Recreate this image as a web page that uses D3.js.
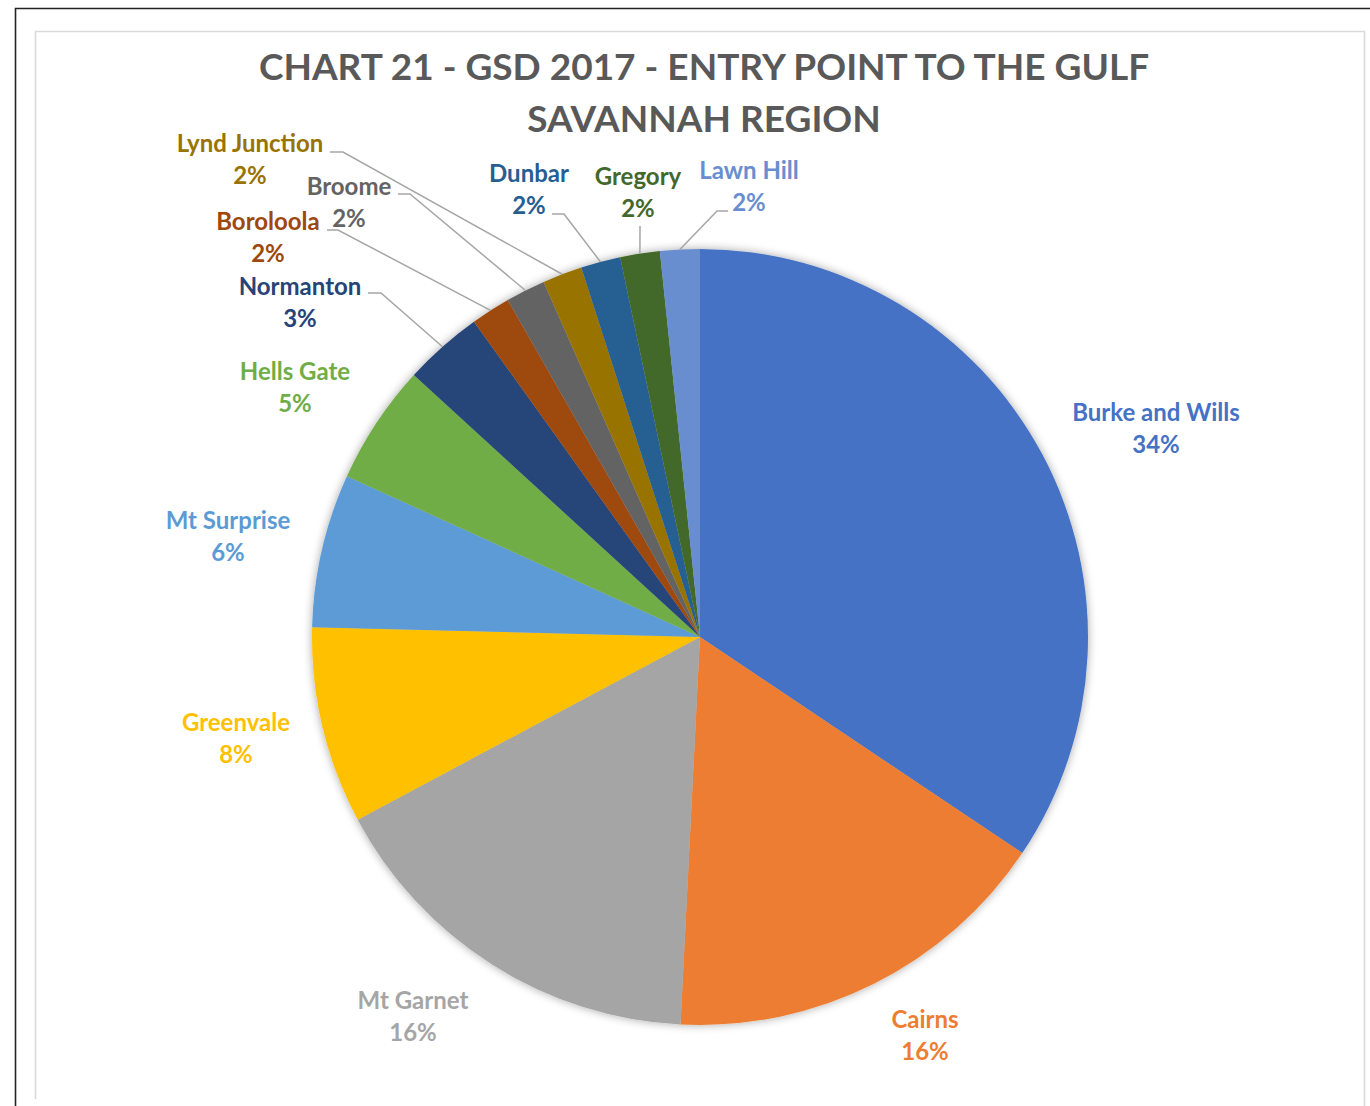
<!DOCTYPE html>
<html>
<head>
<meta charset="utf-8">
<script src="https://cdn.jsdelivr.net/npm/d3@7"></script>
<style>
  html, body { margin: 0; padding: 0; background: #ffffff; }
  svg { display: block; }
  text { font-family: Lato, "Open Sans", "DejaVu Sans", sans-serif; font-weight: 700; }
</style>
</head>
<body>
<svg id="chart" width="1370" height="1106"></svg>
<script>
// Entry points, share of visitors (%), clockwise from 12 o'clock
const categories = [
  "Burke and Wills", "Cairns", "Mt Garnet", "Greenvale", "Mt Surprise",
  "Hells Gate", "Normanton", "Boroloola", "Broome", "Lynd Junction",
  "Dunbar", "Gregory", "Lawn Hill"
];
const shares = [34.4, 16.4, 16.4, 8.2, 6.4, 5.0, 3.3, 1.65, 1.65, 1.65, 1.65, 1.65, 1.65];

const titleLines = ["CHART 21 - GSD 2017 - ENTRY POINT TO THE GULF", "SAVANNAH REGION"];

const sliceColors = [
  "#4472C4", "#ED7D31", "#A5A5A5", "#FFC000", "#5B9BD5",
  "#70AD47", "#264478", "#9E480E", "#636363", "#997300",
  "#255E91", "#43682B", "#698ED0"
];

// Label placement: centre x, baseline of the name line, optional leader (start and elbow)
const labelLayout = {
  "Burke and Wills": { x: 1156, y: 421 },
  "Cairns":          { x: 925,  y: 1028 },
  "Mt Garnet":       { x: 413,  y: 1009 },
  "Greenvale":       { x: 236,  y: 731 },
  "Mt Surprise":     { x: 228,  y: 529 },
  "Hells Gate":      { x: 295,  y: 380 },
  "Normanton":       { x: 300,  y: 295, leader: [[368, 293], [381, 293]] },
  "Boroloola":       { x: 268,  y: 230, leader: [[327, 230], [338, 230]] },
  "Broome":          { x: 349,  y: 195, leader: [[398, 194], [410, 194]] },
  "Lynd Junction":   { x: 250,  y: 152, leader: [[330, 152], [343, 152]] },
  "Dunbar":          { x: 529,  y: 182, leader: [[552, 214], [564, 214]] },
  "Gregory":         { x: 638,  y: 185, leader: [[640, 226]] },
  "Lawn Hill":       { x: 749,  y: 179, leader: [[728, 211], [717, 211]] }
};
const labelColorOverride = { "Mt Garnet": "#A5A5A5" };

const W = 1370, H = 1106;
const cx = 700, cy = 637, R = 388;

const svg = d3.select("#chart");

// Outer frame (top and left edges) and the chart-area border
svg.append("path")
  .attr("d", `M15.5,${H} V8.5 H${W}`)
  .attr("fill", "none").attr("stroke", "#222").attr("stroke-width", 1.6);
svg.append("path")
  .attr("d", `M35.5,1099 V31.5 H1364.5 V${H}`)
  .attr("fill", "none").attr("stroke", "#D9D9D9").attr("stroke-width", 1.6);

// Title
svg.append("g").selectAll("text")
  .data(titleLines)
  .join("text")
  .attr("x", 704)
  .attr("y", (d, i) => 80 + i * 52)
  .attr("text-anchor", "middle")
  .attr("fill", "#595959")
  .style("font-size", "37px")
  .text(d => d);

// Soft shadow behind the pie
const defs = svg.append("defs");
const f = defs.append("filter").attr("id", "pieShadow")
  .attr("x", "-20%").attr("y", "-20%").attr("width", "140%").attr("height", "140%");
f.append("feGaussianBlur").attr("in", "SourceAlpha").attr("stdDeviation", 5).attr("result", "b");
f.append("feOffset").attr("in", "b").attr("dx", 0).attr("dy", 0).attr("result", "o");
f.append("feComponentTransfer").attr("in", "o").attr("result", "s")
  .append("feFuncA").attr("type", "linear").attr("slope", 0.35);
const fm = f.append("feMerge");
fm.append("feMergeNode").attr("in", "s");
fm.append("feMergeNode").attr("in", "SourceGraphic");

const data = categories.map((c, i) => ({ name: c, value: shares[i], color: sliceColors[i] }));
const total = d3.sum(data, d => d.value);
const pct = d3.format(".0%");

const pie = d3.pie().value(d => d.value).sort(null);
const arcs = pie(data);
const arc = d3.arc().innerRadius(0).outerRadius(R);
const rim = d3.arc().innerRadius(R).outerRadius(R);

const g = svg.append("g").attr("transform", `translate(${cx},${cy})`);
const slices = g.append("g").attr("filter", "url(#pieShadow)");
slices.selectAll("path")
  .data(arcs)
  .join("path")
  .attr("d", arc)
  .attr("fill", d => d.data.color);

// Leader lines for the narrow slices
const leaders = svg.append("g")
  .attr("fill", "none").attr("stroke", "#A6A6A6").attr("stroke-width", 1.5);
arcs.forEach(a => {
  const L = labelLayout[a.data.name];
  if (!L.leader) return;
  const c = rim.centroid(a);
  const pts = L.leader.concat([[c[0] + cx, c[1] + cy]]);
  leaders.append("path").attr("d", d3.line()(pts));
});

// Category and percentage labels
const labels = svg.append("g").style("font-size", "24px");
arcs.forEach(a => {
  const L = labelLayout[a.data.name];
  const col = labelColorOverride[a.data.name] || a.data.color;
  const t = labels.append("text")
    .attr("text-anchor", "middle")
    .attr("fill", col);
  t.append("tspan").attr("x", L.x).attr("y", L.y).text(a.data.name);
  t.append("tspan").attr("x", L.x).attr("y", L.y + 32).text(pct(a.data.value / total));
});
</script>
</body>
</html>
